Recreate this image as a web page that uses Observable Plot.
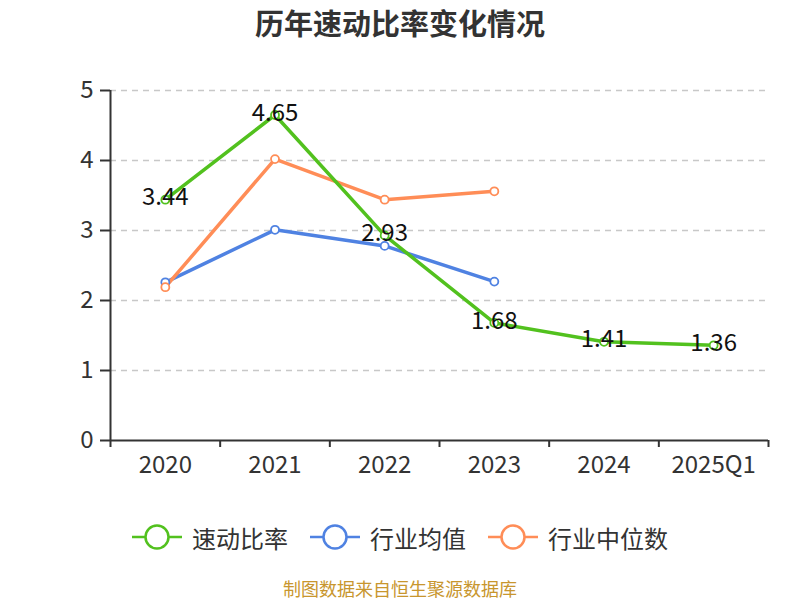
<!DOCTYPE html>
<html>
<head>
<meta charset="utf-8">
<script src="https://cdn.jsdelivr.net/npm/d3@7"></script>
<script src="https://cdn.jsdelivr.net/npm/@observablehq/plot@0.6"></script>
<style>
  body { margin:0; width:800px; height:600px; background:#fff; font-family:"Noto Sans CJK SC","Noto Sans",sans-serif; overflow:hidden; }
  #title { height:60px; line-height:44px; text-align:center; font-size:29px; font-weight:bold; color:#333; }
  #legend { margin-top:30px; height:34px; display:flex; justify-content:center; align-items:center; font-size:24px; color:#333; }
  .item { display:flex; align-items:center; margin:0 11px; }
  .item svg { margin-right:10px; }
  #caption { margin-top:24px; height:20px; line-height:20px; text-align:center; font-size:18px; color:#c8962e; }
</style>
</head>
<body>
<div id="title">历年速动比率变化情况</div>
<div id="chart"></div>
<div id="legend"></div>
<div id="caption">制图数据来自恒生聚源数据库</div>
<script>
const categories = ["2020","2021","2022","2023","2024","2025Q1"];
const quickRatio = [3.44, 4.65, 2.93, 1.68, 1.41, 1.36];
const industryMean = [2.26, 3.01, 2.78, 2.27];
const industryMedian = [2.19, 4.02, 3.44, 3.56];
const yTicks = [0, 1, 2, 3, 4, 5];
const seriesNames = ["速动比率", "行业均值", "行业中位数"];
const colors = ["#52c11e", "#4f82e2", "#ff8d57"];

const toRows = (vals, s) => vals.map((v, i) => ({i, v, s}));
const rowsQ = toRows(quickRatio, seriesNames[0]);
const rowsM = toRows(industryMean, seriesNames[1]);
const rowsD = toRows(industryMedian, seriesNames[2]);
const bounds = d3.range(categories.length + 1).map(k => k - 0.5);

const chart = Plot.plot({
  width: 800,
  height: 430,
  marginTop: 30,
  marginBottom: 50,
  marginLeft: 110,
  marginRight: 32,
  style: {fontFamily: '"Noto Sans CJK SC","Noto Sans",sans-serif', background: "transparent"},
  x: {type: "linear", domain: [-0.5, categories.length - 0.5]},
  y: {domain: [0, 5]},
  marks: [
    Plot.gridY(yTicks.slice(1), {stroke: "#c8c8c8", strokeOpacity: 1, strokeDasharray: "6,5", strokeWidth: 1.5}),
    Plot.axisY({ticks: yTicks, tickFormat: d3.format("d"), tickSize: 10, tickPadding: 7, fontSize: 24, color: "#333", label: null, strokeWidth: 2}),
    Plot.axisX({ticks: d3.range(categories.length), tickFormat: i => categories[i], tickSize: 0, tickPadding: 15, fontSize: 24, color: "#333", label: null}),
    Plot.axisX({ticks: bounds, tickFormat: () => "", tickSize: 7, label: null, stroke: "#333", strokeWidth: 2}),
    Plot.ruleX([-0.5], {stroke: "#333", strokeWidth: 2}),
    Plot.ruleY([0], {stroke: "#333", strokeWidth: 2}),
    Plot.line(rowsM, {x: "i", y: "v", stroke: colors[1], strokeWidth: 3.5}),
    Plot.line(rowsD, {x: "i", y: "v", stroke: colors[2], strokeWidth: 3.5}),
    Plot.line(rowsQ, {x: "i", y: "v", stroke: colors[0], strokeWidth: 3.5}),
    Plot.dot(rowsM, {x: "i", y: "v", r: 4, fill: "#fff", stroke: colors[1], strokeWidth: 1.8}),
    Plot.dot(rowsD, {x: "i", y: "v", r: 4, fill: "#fff", stroke: colors[2], strokeWidth: 1.8}),
    Plot.dot(rowsQ, {x: "i", y: "v", r: 4, fill: "#fff", stroke: colors[0], strokeWidth: 1.8}),
    Plot.text(rowsQ, {x: "i", y: "v", text: d => d.v.toFixed(2), fontSize: 24, fill: "#111", dy: -2})
  ]
});
document.getElementById("chart").appendChild(chart);

const legend = document.getElementById("legend");
seriesNames.forEach((name, k) => {
  const item = document.createElement("div");
  item.className = "item";
  item.innerHTML = `<svg width="50" height="26"><line x1="0" y1="13" x2="50" y2="13" stroke="${colors[k]}" stroke-width="2.5"/><circle cx="25" cy="13" r="11.5" fill="#fff" stroke="${colors[k]}" stroke-width="2.5"/></svg><span>${name}</span>`;
  legend.appendChild(item);
});
</script>
</body>
</html>
